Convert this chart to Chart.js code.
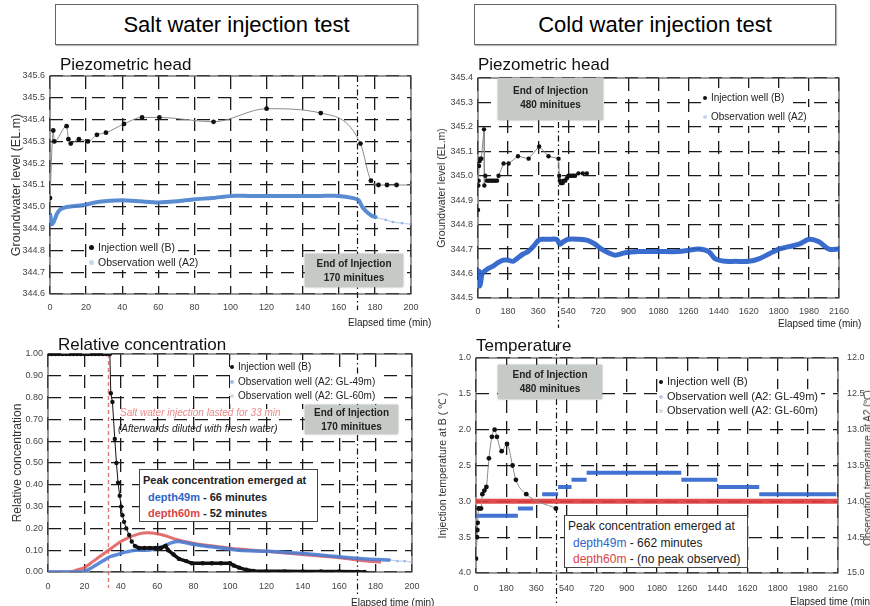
<!DOCTYPE html>
<html>
<head>
<meta charset="utf-8">
<script src="https://cdn.jsdelivr.net/npm/chart.js"></script>
<style>
body{margin:0;background:#fff;font-family:"Liberation Sans",Arial,sans-serif;}
#page{position:relative;width:870px;height:606px;overflow:hidden;background:#fff;}
canvas{position:absolute;}
.t{position:absolute;white-space:nowrap;color:#111;line-height:1;}
.head{position:absolute;font-size:22px;border:1px solid #666;box-sizing:border-box;text-align:center;line-height:39px;height:41px;box-shadow:1px 1px 1px #bbb;}
.sub{font-size:17px;}
.leg{position:absolute;font-size:10.5px;color:#222;line-height:15px;white-space:nowrap;}
.leg div{background:#fff;display:table;padding-right:3px;}
.dot{display:inline-block;width:5px;height:5px;border-radius:50%;margin-right:4px;vertical-align:1px;}
.endbox{position:absolute;background:#c6cac6;font-size:10px;font-weight:bold;text-align:center;box-sizing:border-box;padding-top:3px;line-height:14px;color:#222;box-shadow:0 0 2px #999;z-index:2;}
.peak{position:absolute;background:#fff;border:1px solid #444;box-sizing:border-box;z-index:2;color:#222;}
.blue{color:#2f64c8;}
.red{color:#d84545;}
.xt{position:absolute;font-size:10px;color:#222;white-space:nowrap;line-height:1;}
</style>
</head>
<body>
<div id="page">
  <div class="head" style="left:55px;top:4px;width:363px;">Salt water injection test</div>
  <div class="head" style="left:474px;top:4px;width:362px;">Cold water injection test</div>

  <canvas id="c1" width="435" height="270" style="left:0;top:60px;"></canvas>
  <canvas id="c2" width="435" height="270" style="left:435px;top:60px;"></canvas>
  <canvas id="c3" width="435" height="266" style="left:0;top:340px;"></canvas>
  <canvas id="c4" width="435" height="266" style="left:435px;top:340px;"></canvas>

  <!-- top left -->
  <div class="t sub" style="left:60px;top:56px;">Piezometric head</div>
  <div class="leg" style="left:89px;top:240px;">
    <div><span class="dot" style="background:#111"></span>Injection well (B)</div>
    <div><span class="dot" style="background:#c5d6ee"></span>Observation well (A2)</div>
  </div>
  <div class="endbox" style="left:305px;top:254px;width:98px;height:33px;">End of Injection<br>170 minitues</div>
  <div class="xt" style="left:348px;top:318px;">Elapsed time (min)</div>

  <!-- top right -->
  <div class="t sub" style="left:478px;top:56px;">Piezometric head</div>
  <div class="endbox" style="left:498px;top:78px;width:105px;height:42px;padding-top:6px;">End of Injection<br>480 minitues</div>
  <div class="leg" style="left:703px;top:88px;line-height:19px;font-size:10px;">
    <div><span class="dot" style="background:#111;width:4px;height:4px"></span>Injection well (B)</div>
    <div><span class="dot" style="background:#c5d6ee;width:4px;height:4px"></span>Observation well (A2)</div>
  </div>
  <div class="xt" style="left:778px;top:319px;">Elapsed time (min)</div>

  <!-- bottom left -->
  <div class="t sub" style="left:58px;top:336px;">Relative concentration</div>
  <div class="leg" style="left:230px;top:360px;font-size:10px;line-height:14.5px;">
    <div><span class="dot" style="background:#111;width:4px;height:4px"></span>Injection well (B)</div>
    <div><span class="dot" style="background:#9fbbe6;width:4px;height:4px"></span>Observation well (A2: GL-49m)</div>
    <div><span class="dot" style="background:#e2d6d6;width:4px;height:4px"></span>Observation well (A2: GL-60m)</div>
  </div>
  <div class="t" style="left:120px;top:408px;font-size:10px;font-style:italic;color:#e98a8a;">Salt water injection lasted for 33 min</div>
  <div class="t" style="left:118px;top:424px;font-size:10px;font-style:italic;color:#222;">(Afterwards diluted with fresh water)</div>
  <div class="endbox" style="left:305px;top:405px;width:93px;height:29px;padding-top:1px;">End of Injection<br>170 minitues</div>
  <div class="peak" style="left:139px;top:469px;width:179px;height:53px;font-size:11px;font-weight:bold;line-height:16.5px;padding:2px 0 0 3px;">
    <div>Peak concentration emerged at</div>
    <div style="padding-left:5px"><span class="blue">depth49m</span> - 66 minutes</div>
    <div style="padding-left:5px"><span class="red">depth60m</span> - 52 minutes</div>
  </div>
  <div class="xt" style="left:351px;top:598px;">Elapsed time (min)</div>

  <!-- bottom right -->
  <div class="t sub" style="left:476px;top:337px;">Temperature</div>
  <div class="endbox" style="left:498px;top:365px;width:104px;height:34px;">End of Injection<br>480 minitues</div>
  <div class="leg" style="left:659px;top:374px;font-size:11px;line-height:14.5px;">
    <div><span class="dot" style="background:#111;width:4px;height:4px"></span>Injection well (B)</div>
    <div><span class="dot" style="background:#b9cdea;width:4px;height:4px"></span>Observation well (A2: GL-49m)</div>
    <div><span class="dot" style="background:#e2dada;width:4px;height:4px"></span>Observation well (A2: GL-60m)</div>
  </div>
  <div class="peak" style="left:564px;top:515px;width:184px;height:53px;font-size:12px;line-height:16.5px;padding:2px 0 0 3px;">
    <div>Peak concentration emerged at</div>
    <div style="padding-left:5px"><span class="blue">depth49m</span> - 662 minutes</div>
    <div style="padding-left:5px"><span class="red">depth60m</span> - (no peak observed)</div>
  </div>
  <div class="xt" style="left:790px;top:597px;">Elapsed time (min)</div>
  <div class="t" style="left:868px;top:468px;font-size:10px;color:#333;transform:translate(-50%,-50%) rotate(-90deg);">Observation temperature at A2 (℃)</div>
</div>

<script>
// ---------- data ----------
// salt water test, piezometric head
const tlInjT = [0, 1.8, 2.4, 9.2, 10.2, 11.5, 16, 21, 26, 31, 41, 51, 60.6, 90.6, 120, 150, 172, 177.8, 182, 186.7, 192, 200];
const tlInjV = [345.04, 345.35, 345.30, 345.37, 345.31, 345.29, 345.31, 345.30, 345.33, 345.34, 345.38, 345.41, 345.41, 345.39, 345.45, 345.43, 345.29, 345.12, 345.10, 345.10, 345.10, 345.10];
const tlObsT = [0, 1, 2, 4, 6, 10, 15, 20, 25, 30, 40, 50, 60, 70, 80, 90, 100, 110, 120, 130, 140, 150, 160, 168, 171, 173, 175, 178, 181];
const tlObsV = [344.97, 344.92, 344.93, 344.97, 344.99, 345.00, 345.005, 345.01, 345.02, 345.025, 345.03, 345.025, 345.02, 345.025, 345.035, 345.04, 345.05, 345.05, 345.05, 345.05, 345.05, 345.05, 345.05, 345.04, 345.03, 345.0, 344.98, 344.96, 344.95];
const tlTailT = [181, 186, 190, 195, 200];
const tlTailV = [344.95, 344.94, 344.93, 344.925, 344.92];

// cold water test, piezometric head
const trInjT = [0, 2, 4, 6, 10, 14, 20, 36, 38, 44, 54, 64, 74, 84, 94, 104, 114, 123, 153, 183, 239, 303, 366, 422, 482, 486, 490, 495, 501, 507, 512, 522, 532, 541, 551, 561, 571, 581, 601, 627, 651];
const trInjV = [344.86, 344.96, 344.98, 345.04, 345.06, 345.07, 345.07, 345.19, 344.96, 345.00, 344.98, 344.98, 344.98, 344.98, 344.98, 344.98, 344.98, 345.00, 345.05, 345.05, 345.08, 345.07, 345.12, 345.08, 345.07, 345.00, 344.98, 344.97, 344.97, 344.97, 344.98, 344.98, 344.99, 345.0, 345.0, 345.0, 345.0, 345.0, 345.01, 345.01, 345.01];
const trObsT = [0, 5, 10, 15, 25, 40, 60, 90, 120, 150, 180, 210, 240, 270, 300, 330, 360, 380, 420, 470, 490, 510, 540, 600, 660, 700, 740, 780, 820, 880, 960, 1080, 1200, 1260, 1320, 1380, 1420, 1480, 1540, 1620, 1680, 1740, 1800, 1860, 1920, 1980, 2040, 2100, 2160];
const trObsV = [344.58, 344.61, 344.55, 344.56, 344.60, 344.61, 344.62, 344.63, 344.645, 344.655, 344.655, 344.65, 344.665, 344.68, 344.69, 344.71, 344.735, 344.74, 344.74, 344.74, 344.72, 344.73, 344.74, 344.74, 344.735, 344.72, 344.70, 344.685, 344.675, 344.685, 344.69, 344.69, 344.69, 344.695, 344.70, 344.69, 344.66, 344.65, 344.65, 344.65, 344.66, 344.68, 344.70, 344.71, 344.72, 344.74, 344.73, 344.70, 344.70];

// salt water test, relative concentration
const blInjT = [0, 2, 4, 6, 8, 10, 12, 14, 16, 18, 20, 22, 24, 26, 28, 30, 32, 34, 34.5, 35.4, 36.7, 37.6, 38.5, 39.4, 40.2, 40.9, 41.8, 43, 44.6, 46, 47.7, 50, 53, 56, 59, 62, 64.6, 66, 69, 72, 76, 79, 85, 90, 95, 100, 102, 105, 109, 113, 120, 130, 140, 150, 160, 170, 174];
const blInjV = [1, 1, 1, 1, 1, 1, 1, 1, 1, 1, 1, 1, 1, 1, 1, 1, 1, 1, 0.82, 0.78, 0.61, 0.50, 0.41, 0.35, 0.30, 0.26, 0.23, 0.20, 0.17, 0.14, 0.12, 0.11, 0.11, 0.11, 0.11, 0.11, 0.12, 0.10, 0.08, 0.06, 0.05, 0.04, 0.04, 0.04, 0.04, 0.04, 0.03, 0.02, 0.01, 0.005, 0.003, 0.003, 0.002, 0.002, 0.002, 0.001, 0];
const bl49T = [0, 10, 18, 22, 26, 30, 34, 38, 42, 48, 55, 60, 64, 68, 72, 78, 85, 95, 105, 120, 140, 160, 175, 188];
const bl49V = [0, 0, 0, 0.01, 0.03, 0.05, 0.07, 0.08, 0.09, 0.10, 0.10, 0.11, 0.12, 0.135, 0.14, 0.13, 0.12, 0.11, 0.10, 0.095, 0.085, 0.07, 0.06, 0.055];
const bl49TailT = [188, 192, 196, 200];
const bl49TailV = [0.055, 0.05, 0.05, 0.045];
const bl60T = [0, 12, 16, 20, 25, 30, 35, 40, 45, 50, 55, 60, 65, 70, 75, 85, 95, 105, 120, 140, 160, 175, 183];
const bl60V = [0, 0, 0.01, 0.02, 0.05, 0.08, 0.11, 0.14, 0.16, 0.175, 0.18, 0.175, 0.165, 0.15, 0.14, 0.125, 0.115, 0.105, 0.095, 0.08, 0.065, 0.05, 0.045];

// cold water test, temperature
const brInjT = [0, 6, 8, 10, 16, 30, 38, 50, 62, 77, 95, 111, 125, 153, 185, 218, 238, 300, 477];
const brInjV = [3.8, 3.5, 3.4, 3.3, 3.1, 3.1, 2.9, 2.85, 2.8, 2.4, 2.1, 2.0, 2.1, 2.3, 2.2, 2.5, 2.7, 2.9, 3.1];
const br49Start = [0, 250, 395, 490, 570, 660, 1225, 1440, 1690];
const br49End = [250, 340, 490, 570, 660, 1225, 1440, 1690, 2150];
const br49V = [14.2, 14.1, 13.9, 13.8, 13.7, 13.6, 13.7, 13.8, 13.9];
const br60T = [0, 2160];
const br60V = [14.0, 14.0];

const saltEnd = 170, coldEnd = 480, saltLasted = 33;

// ---------- helpers ----------
Chart.defaults.font.family = '"Liberation Sans", Arial, sans-serif';
Chart.defaults.animation = false;

function xy(ts, vs) { return ts.map((t, i) => ({x: t, y: vs[i]})); }
function steps(st, en, vs) {
  const out = [];
  st.forEach((s, i) => { out.push({x: s, y: vs[i]}, {x: en[i], y: vs[i]}, {x: en[i], y: null}); });
  return out;
}

const GRID = {color: '#1a1a1a', lineWidth: 1.3, drawTicks: false};
const BORDER = {display: false, dash: [13, 8]};

function axisX(o) {
  return {
    type: 'linear', min: 0, max: o.max,
    afterFit: s => { s.height = o.h; },
    grid: GRID, border: BORDER,
    ticks: {stepSize: o.step, color: '#444', font: {size: 9}, padding: o.tp || 8, maxRotation: 0, autoSkip: false,
            callback: v => String(v)}
  };
}
function axisY(o) {
  return {
    type: 'linear', position: o.pos || 'left', min: o.min, max: o.max, reverse: !!o.rev,
    afterFit: s => { s.width = o.w; },
    grid: o.nogrid ? {display: false, drawTicks: false} : GRID,
    border: BORDER,
    ticks: {stepSize: o.step, color: '#444', font: {size: 9}, padding: o.tp || 5, autoSkip: false,
            callback: v => Number(v).toFixed(o.dec)},
    title: o.title ? {display: true, text: o.title, color: '#333', font: {size: o.tsize || 11},
                      padding: {top: o.tpad || 4, bottom: 0}} : {display: false}
  };
}

const decor = {
  id: 'decor',
  beforeDatasetsDraw(chart, args, opts) {
    const a = chart.chartArea, c = chart.ctx, xs = chart.scales.x;
    c.save();
    c.setLineDash([]);
    c.strokeStyle = '#555';
    c.lineWidth = 1.2;
    c.strokeRect(a.left, a.top, a.right - a.left, a.bottom - a.top);
    (opts.vlines || []).forEach(v => {
      const px = Math.round(xs.getPixelForValue(v.x)) + 0.5;
      c.beginPath();
      c.strokeStyle = v.color;
      c.lineWidth = v.width;
      c.setLineDash(v.dash);
      c.moveTo(px, a.top - (v.up || 0));
      c.lineTo(px, a.bottom + (v.down || 0));
      c.stroke();
    });
    c.restore();
  }
};

function make(id, datasets, scales, pad, vlines) {
  return new Chart(document.getElementById(id), {
    type: 'scatter',
    data: {datasets},
    options: {
      responsive: false,
      layout: {padding: pad},
      scales,
      plugins: {legend: {display: false}, tooltip: {enabled: false}, decor: {vlines}}
    },
    plugins: [decor]
  });
}

const endLine = {color: '#111', width: 1.2, dash: [6, 3, 1.5, 3]};

// ---------- top left ----------
make('c1', [
  {data: xy(tlInjT, tlInjV), showLine: true, borderColor: '#8a8a8a', borderWidth: 1,
   cubicInterpolationMode: 'monotone', pointBackgroundColor: '#111', pointBorderWidth: 0,
   pointRadius: c => c.dataIndex === tlInjT.length - 1 ? 0 : 2.4},
  {data: xy(tlObsT, tlObsV), showLine: true, borderColor: 'rgba(72,128,205,0.9)', borderWidth: 4,
   pointRadius: 0, tension: 0.2},
  {data: xy(tlTailT, tlTailV), showLine: true, borderColor: 'rgba(150,180,225,0.6)', borderWidth: 1.2,
   pointRadius: 1.3, pointBackgroundColor: 'rgba(140,170,220,0.8)', pointBorderWidth: 0}
], {
  x: axisX({max: 200, step: 20, h: 36}),
  y: axisY({min: 344.6, max: 345.6, step: 0.1, dec: 1, w: 50, title: 'Groundwater level (EL.m)', tsize: 12.5, tpad: 9})
}, {top: 16, right: 24, left: 0, bottom: 0},
[Object.assign({x: saltEnd, up: 0, down: 16}, endLine)]);

// ---------- top right ----------
make('c2', [
  {data: xy(trInjT, trInjV), showLine: true, borderColor: '#8a8a8a', borderWidth: 1,
   pointBackgroundColor: '#111', pointBorderWidth: 0, pointRadius: 2.2},
  {data: xy(trObsT, trObsV), showLine: true, borderColor: 'rgba(40,95,200,0.92)', borderWidth: 5,
   pointRadius: 0, tension: 0.3}
], {
  x: axisX({max: 2160, step: 180, h: 32}),
  y: axisY({min: 344.5, max: 345.4, step: 0.1, dec: 1, w: 43, title: 'Groundwater level (EL.m)', tsize: 10.5, tpad: 1})
}, {top: 18, right: 31, left: 0, bottom: 0},
[Object.assign({x: coldEnd, up: -44, down: 30}, endLine)]);

// ---------- bottom left ----------
make('c3', [
  {data: xy(blInjT, blInjV), showLine: true, borderColor: '#111', borderWidth: 3.5,
   segment: {borderWidth: c => (c.p0.parsed.x >= 34 && c.p1.parsed.x <= 47.7) ? 1 : 3.5},
   pointBackgroundColor: '#111', pointBorderWidth: 0, pointRadius: 2.2},
  {data: xy(bl49T, bl49V), showLine: true, borderColor: 'rgba(75,125,210,0.9)', borderWidth: 3.5,
   pointRadius: 0, tension: 0.3},
  {data: xy(bl60T, bl60V), showLine: true, borderColor: 'rgba(225,85,85,0.85)', borderWidth: 3,
   pointRadius: 0, tension: 0.3},
  {data: xy(bl49TailT, bl49TailV), showLine: true, borderColor: 'rgba(150,180,225,0.6)', borderWidth: 1.2,
   pointRadius: 1.3, pointBackgroundColor: 'rgba(140,170,220,0.8)', pointBorderWidth: 0}
], {
  x: axisX({max: 200, step: 20, h: 34, tp: 9}),
  y: axisY({min: 0, max: 1, step: 0.1, dec: 2, w: 48, title: 'Relative concentration', tsize: 12, tpad: 10})
}, {top: 14, right: 23, left: 0, bottom: 0},
[Object.assign({x: saltEnd, up: 0, down: 24}, endLine),
 {x: saltLasted, color: 'rgba(225,95,95,0.85)', width: 1.4, dash: [4, 3], up: 0, down: 16}]);

// ---------- bottom right ----------
make('c4', [
  {data: xy(brInjT, brInjV), showLine: true, borderColor: '#8a8a8a', borderWidth: 1,
   cubicInterpolationMode: 'monotone', pointBackgroundColor: '#111', pointBorderWidth: 0, pointRadius: 2.4},
  {data: steps(br49Start, br49End, br49V), yAxisID: 'y2', showLine: true, spanGaps: false,
   borderColor: 'rgba(45,100,205,0.9)', borderWidth: 4, pointRadius: 0},
  {data: xy(br60T, br60V), yAxisID: 'y2', showLine: true, borderColor: 'rgba(222,55,55,0.9)', borderWidth: 5,
   pointRadius: 0}
], {
  x: axisX({max: 2160, step: 180, h: 33, tp: 10}),
  y: axisY({min: 1, max: 4, step: 0.5, dec: 1, rev: true, w: 41, title: 'Injection temperature at B ( ℃ )', tsize: 10.5, tpad: 2}),
  y2: axisY({min: 12, max: 15, step: 0.5, dec: 1, rev: true, w: 32, pos: 'right', nogrid: true, tp: 9})
}, {top: 18, right: 0, left: 0, bottom: 0},
[Object.assign({x: coldEnd, up: 13, down: 30}, endLine)]);
</script>
</body>
</html>
